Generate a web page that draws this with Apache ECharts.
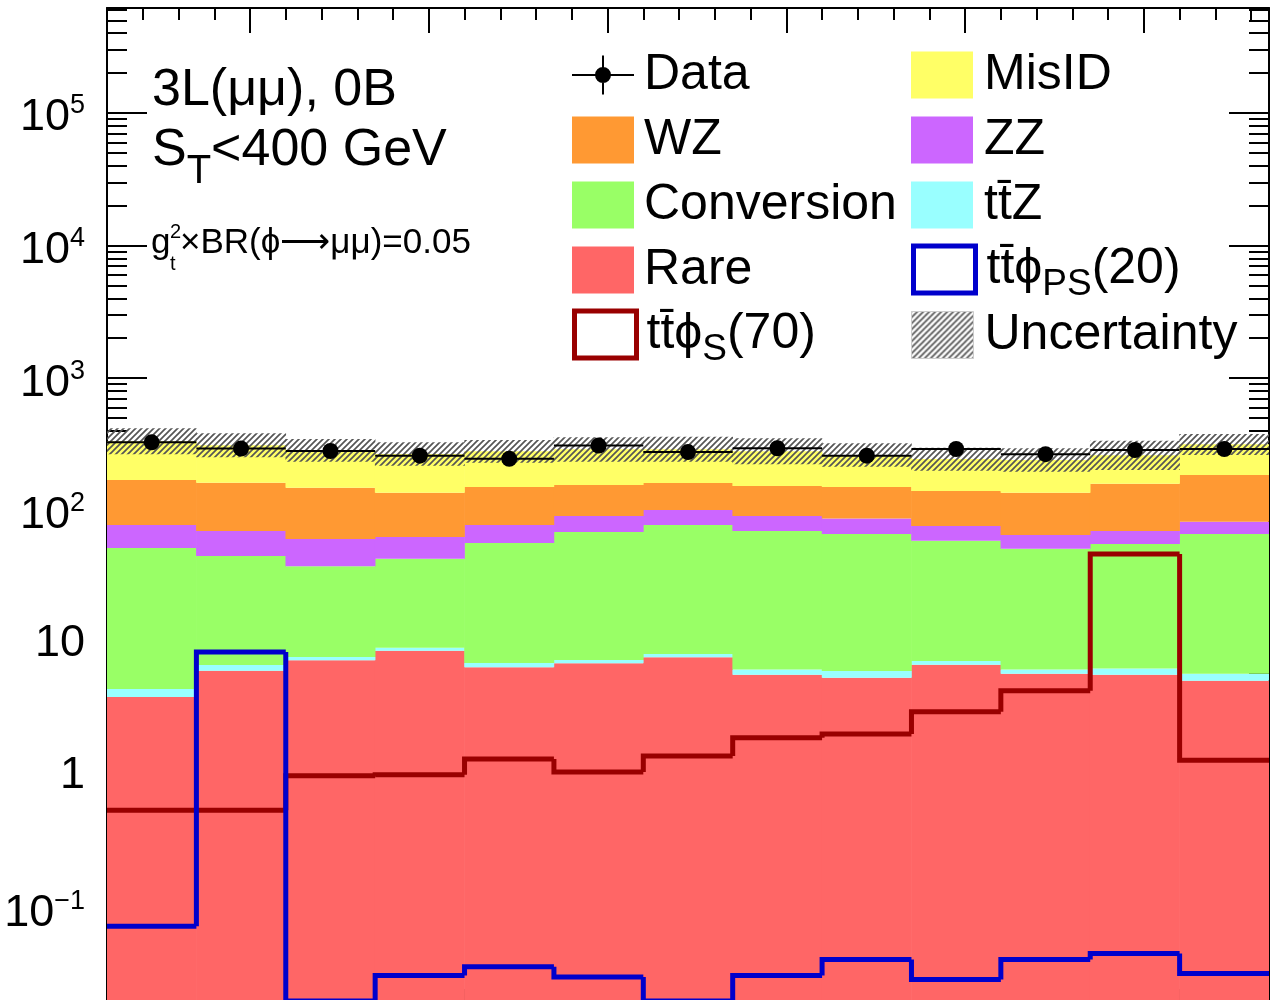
<!DOCTYPE html>
<html><head><meta charset="utf-8">
<script src="https://cdn.jsdelivr.net/npm/echarts@6/dist/echarts.min.js"></script>
<style>html,body{margin:0;padding:0;background:#fff;}#c{width:1270px;height:1000px;}</style>
</head><body><div id="c"></div>
<script>
// ---- data ----
const massBins = ['12-17','17-22','22-27','27-32','32-37','37-42','42-47','47-52','52-57','57-62','62-67','67-72','72-77'];
const rare       = [3.93, 6.20, 7.43, 8.78, 6.58, 7.05, 7.83, 5.78, 5.49, 6.88, 5.89, 5.78, 5.21];
const ttz        = [0.58, 0.65, 0.44, 0.47, 0.51, 0.42, 0.46, 0.57, 0.68, 0.46, 0.46, 0.68, 0.68];
const conversion = [47.8, 38.6, 30.3, 34.2, 49.9, 61.5, 69.7, 64.0, 60.5, 52.1, 45.3, 49.6, 60.8];
const zz         = [25.7, 24.8, 23.0, 19.9, 21.0, 22.2, 23.2, 20.9, 20.6, 17.3, 13.9, 14.2, 15.9];
const wz         = [92.5, 92.4, 88.0, 73.4, 73.0, 65.1, 60.6, 62.4, 63.7, 64.1, 71.2, 89.6, 103.4];
const misid      = [163.5, 148.9, 136.4, 131.2, 129.7, 134.3, 128.8, 127.1, 112.3, 104.7, 104.6, 102.0, 131.0];
const uncLo      = [266.5, 252.9, 234.3, 218.6, 230.3, 234.3, 234.3, 224.0, 214.8, 200.4, 197.0, 202.9, 263.2];
const uncHi      = [418.8, 383.9, 347.7, 328.3, 341.7, 358.1, 361.8, 351.9, 322.6, 298.9, 295.8, 337.6, 379.3];
const dataVals   = [328, 294, 282, 260, 246, 310, 277, 296, 260, 292, 267, 287, 292];
const dataErr    = [18, 17, 17, 16, 16, 18, 17, 17, 16, 17, 16, 17, 17];
const sigS70     = [0.55, 0.55, 1.00, 1.02, 1.34, 1.07, 1.41, 1.94, 2.07, 3.04, 4.38, 47.1, 1.31];
const sigPS20    = [0.0734, 8.58, 0.02, 0.0311, 0.0362, 0.0304, 0.02, 0.0311, 0.0411, 0.0291, 0.0411, 0.0457, 0.0323];
const yMajorTicks = [0.1, 1, 10, 100, 1000, 10000, 100000];
const xMajorTicks = [20, 30, 40, 50, 60, 70];
const xRange = [12, 77];
const yRange = [0.02, 6.2e5];

// ---- derived tick lists ----
const yMinorTicks = [];
for (let e = -2; e <= 5; e++) for (let m = 2; m <= 9; m++) {
  const v = m * Math.pow(10, e);
  if (v >= yRange[0] && v <= yRange[1]) yMinorTicks.push(v);
}
const xMinorTicks = [];
for (let v = xRange[0]; v <= xRange[1]; v += 2) xMinorTicks.push(v);

const FONT = 'Liberation Sans';
const layers = [
  {name: 'Rare', values: rare, color: '#ff6666'},
  {name: 'tt\u0304Z', values: ttz, color: '#99ffff'},
  {name: 'Conversion', values: conversion, color: '#99ff66'},
  {name: 'ZZ', values: zz, color: '#cc66ff'},
  {name: 'WZ', values: wz, color: '#ff9933'},
  {name: 'MisID', values: misid, color: '#ffff66'}
];

function hatchCanvas() {
  const s = 6, c = document.createElement('canvas');
  c.width = s; c.height = s;
  const g = c.getContext('2d');
  g.strokeStyle = '#555'; g.lineWidth = 1.7;
  g.beginPath();
  g.moveTo(-1, s + 1); g.lineTo(s + 1, -1);
  g.moveTo(-2, 2); g.lineTo(2, -2);
  g.moveTo(s - 2, s + 2); g.lineTo(s + 2, s - 2);
  g.stroke();
  return c;
}
const hatch = {image: hatchCanvas(), repeat: 'repeat'};

function rectItem(fillGetter) {
  return function (params, api) {
    const i = api.value(0);
    const pTop = api.coord([i, api.value(2)]);
    const pBot = api.coord([i, api.value(1)]);
    const w = api.size([1, 0])[0];
    return {type: 'rect',
      shape: {x: pTop[0] - w / 2 - 0.3, y: pTop[1], width: w + 0.6, height: pBot[1] - pTop[1]},
      style: {fill: fillGetter(api), stroke: null}};
  };
}

const series = [];
let cum = massBins.map(() => 0);
layers.forEach((L, k) => {
  const items = massBins.map((_, i) => {
    const base = k === 0 ? yRange[0] : cum[i];
    const top = cum[i] + L.values[i];
    return [i, base, top];
  });
  cum = cum.map((c, i) => c + L.values[i]);
  series.push({
    name: L.name, type: 'custom', xAxisIndex: 0, yAxisIndex: 0, clip: true,
    itemStyle: {color: L.color},
    encode: {x: 0, y: [1, 2]},
    renderItem: rectItem(api => api.visual('color')),
    data: items, z: 2
  });
});

series.push({
  name: 'Uncertainty', type: 'custom', xAxisIndex: 0, yAxisIndex: 0, clip: true,
  itemStyle: {color: hatch},
  encode: {x: 0, y: [1, 2]},
  renderItem: rectItem(() => hatch),
  data: massBins.map((_, i) => [i, uncLo[i], uncHi[i]]), z: 3
});

function stepRender(values, color) {
  return function (params, api) {
    const i = api.value(0);
    const w = api.size([1, 0])[0];
    const c = api.coord([i, api.value(1)]);
    const xl = c[0] - w / 2, xr = c[0] + w / 2;
    const pts = [];
    if (i > 0) { const pc = api.coord([i - 1, values[i - 1]]); pts.push([xl, pc[1]]); }
    pts.push([xl, c[1]]); pts.push([xr, c[1]]);
    return {type: 'polyline', shape: {points: pts},
      style: {stroke: color, lineWidth: 5, fill: null, lineJoin: 'miter', lineCap: 'butt'}};
  };
}
series.push({
  name: 'tt\u0304\u03d5_S(70)', type: 'custom', xAxisIndex: 0, yAxisIndex: 0, clip: true,
  itemStyle: {color: '#990000'}, encode: {x: 0, y: 1},
  renderItem: stepRender(sigS70, '#990000'),
  data: massBins.map((_, i) => [i, sigS70[i]]), z: 4
});
series.push({
  name: 'tt\u0304\u03d5_PS(20)', type: 'custom', xAxisIndex: 0, yAxisIndex: 0, clip: true,
  itemStyle: {color: '#0000cc'}, encode: {x: 0, y: 1},
  renderItem: stepRender(sigPS20, '#0000cc'),
  data: massBins.map((_, i) => [i, sigPS20[i]]), z: 4
});
series.push({
  name: 'Data', type: 'custom', xAxisIndex: 0, yAxisIndex: 0, clip: true,
  itemStyle: {color: '#000'}, encode: {x: 0, y: 1},
  renderItem: function (params, api) {
    const i = api.value(0), v = api.value(1), e = api.value(2);
    const c = api.coord([i, v]), w = api.size([1, 0])[0];
    const cu = api.coord([i, v + e]), cd = api.coord([i, v - e]);
    return {type: 'group', children: [
      {type: 'line', shape: {x1: c[0] - w / 2, y1: c[1], x2: c[0] + w / 2, y2: c[1]}, style: {stroke: '#000', lineWidth: 2}},
      {type: 'line', shape: {x1: c[0], y1: cu[1], x2: c[0], y2: cd[1]}, style: {stroke: '#000', lineWidth: 2}},
      {type: 'circle', shape: {cx: c[0], cy: c[1], r: 8}, style: {fill: '#000'}}
    ]};
  },
  data: massBins.map((_, i) => [i, dataVals[i], dataErr[i]]), z: 5
});

// ---- legend ----
const legendLabels = {
  'Data': '{n|Data}', 'WZ': '{n|WZ}', 'Conversion': '{n|Conversion}', 'Rare': '{n|Rare}',
  'tt\u0304\u03d5_S(70)': '{n|tt\u0304\u03d5}{sub|S}{n|(70)}',
  'MisID': '{n|MisID}', 'ZZ': '{n|ZZ}', 'tt\u0304Z': '{n|tt\u0304Z}',
  'tt\u0304\u03d5_PS(20)': '{n|tt\u0304\u03d5}{sub|PS}{n|(20)}',
  'Uncertainty': '{n|Uncertainty}'
};
function legendText(padLeft) {
  return {
    fontFamily: FONT, fontSize: 50, color: '#000', lineHeight: 47, padding: [0, 0, 0, padLeft],
    rich: {
      n: {fontFamily: FONT, fontSize: 50, lineHeight: 47, color: '#000'},
      sub: {fontFamily: FONT, fontSize: 37, lineHeight: 5, padding: [30, 0, 0, 0], color: '#000'}
    }
  };
}
const dataIcon = 'path://M0,22.5H62V24.5H0Z M30,4H32V43H30Z M39,23.5A8,8,0,1,1,23,23.5A8,8,0,1,1,39,23.5Z';
function legendCfg(left, top, padLeft, names) {
  return {
    show: true, orient: 'vertical', left: left, top: top, padding: 0,
    itemWidth: 62, itemHeight: 47, itemGap: 15, selectedMode: false, icon: 'rect',
    textStyle: legendText(padLeft),
    formatter: n => legendLabels[n] || n,
    data: names.map(n => {
      if (n === 'Data') return {name: n, icon: dataIcon, itemStyle: {color: '#000'}};
      if (n.indexOf('_S(') >= 0) return {name: n, icon: 'rect', itemStyle: {color: '#fff', borderColor: '#990000', borderWidth: 5}};
      if (n.indexOf('_PS(') >= 0) return {name: n, icon: 'rect', itemStyle: {color: '#fff', borderColor: '#0000cc', borderWidth: 5}};
      if (n === 'Uncertainty') return {name: n, icon: 'rect', itemStyle: {color: hatch, borderColor: '#ccc', borderWidth: 1}};
      return {name: n, icon: 'rect'};
    })
  };
}

// ---- axes ----
const lineBlack = {color: '#000', width: 2};
function yFmt(v) {
  const e = Math.round(Math.log10(v));
  if (e === 0) return '{n|1}';
  if (e === 1) return '{n|10}';
  return '{m|10}{sup|' + (e < 0 ? '\u2212' + (-e) : e) + '}';
}
const yBase = {type: 'log', logBase: 10, min: yRange[0], max: yRange[1], splitLine: {show: false}, minorTick: {show: false}, minorSplitLine: {show: false}};
const yAxis = [
  Object.assign({}, yBase, {position: 'left', axisLine: {show: true, lineStyle: lineBlack},
    axisTick: {show: true, inside: true, length: 40, customValues: yMajorTicks, lineStyle: lineBlack},
    axisLabel: {show: true, customValues: yMajorTicks, formatter: yFmt, margin: 22, color: '#000',
      fontFamily: FONT, fontSize: 45,
      rich: {
        n: {fontFamily: FONT, fontSize: 45, lineHeight: 45, color: '#000'},
        m: {fontFamily: FONT, fontSize: 45, lineHeight: 44, padding: [10, 0, 0, 0], color: '#000'},
        sup: {fontFamily: FONT, fontSize: 27, lineHeight: 27, padding: [0, 0, 14, 0], color: '#000'}
      }}}),
  Object.assign({}, yBase, {position: 'left', offset: 0, axisLine: {show: false},
    axisTick: {show: true, inside: true, length: 20, customValues: yMinorTicks, lineStyle: lineBlack},
    axisLabel: {show: false}}),
  Object.assign({}, yBase, {position: 'right', offset: 0, axisLine: {show: true, lineStyle: lineBlack},
    axisTick: {show: true, inside: true, length: 40, customValues: yMajorTicks, lineStyle: lineBlack},
    axisLabel: {show: false}}),
  Object.assign({}, yBase, {position: 'right', offset: 0, axisLine: {show: false},
    axisTick: {show: true, inside: true, length: 20, customValues: yMinorTicks, lineStyle: lineBlack},
    axisLabel: {show: false}})
];
const xBase = {type: 'value', min: xRange[0], max: xRange[1], splitLine: {show: false}, axisLabel: {show: false}, minorTick: {show: false}};
const xAxis = [
  {type: 'category', data: massBins, show: false, boundaryGap: true},
  Object.assign({}, xBase, {position: 'bottom', axisLine: {show: true, lineStyle: lineBlack},
    axisTick: {show: true, inside: true, length: 12, customValues: xMinorTicks, lineStyle: lineBlack}}),
  Object.assign({}, xBase, {position: 'bottom', axisLine: {show: false},
    axisTick: {show: true, inside: true, length: 25, customValues: xMajorTicks, lineStyle: lineBlack}}),
  Object.assign({}, xBase, {position: 'top', axisLine: {show: true, lineStyle: lineBlack},
    axisTick: {show: true, inside: true, length: 12, customValues: xMinorTicks, lineStyle: lineBlack}}),
  Object.assign({}, xBase, {position: 'top', axisLine: {show: false},
    axisTick: {show: true, inside: true, length: 25, customValues: xMajorTicks, lineStyle: lineBlack}})
];

// ---- annotations ----
const txt = (s, size) => ({text: s, fontFamily: FONT, fontSize: size, fill: '#000', verticalAlign: 'middle', textVerticalAlign: 'middle'});
const graphic = [
  {type: 'text', x: 152, y: 91, z: 10, style: txt('3L(\u03bc\u03bc), 0B', 52)},
  {type: 'text', x: 152, y: 151, z: 10, style: Object.assign(txt('{n|S}{sub|T}{n|<400 GeV}', 52), {
    rich: {n: {fontFamily: FONT, fontSize: 52, lineHeight: 52, fill: '#000', color: '#000'},
           sub: {fontFamily: FONT, fontSize: 40, lineHeight: 10, padding: [42, 0, 0, 0], fill: '#000', color: '#000'}}})},
  {type: 'text', x: 151, y: 243, z: 10, style: txt('g', 35)},
  {type: 'text', x: 170, y: 232, z: 10, style: txt('2', 20)},
  {type: 'text', x: 170, y: 264, z: 10, style: txt('t', 20)},
  {type: 'text', x: 180, y: 243, z: 10, style: txt('\u00d7BR(\u03d5\u27f6\u03bc\u03bc)=0.05', 35)}
];

const chart = echarts.init(document.getElementById('c'), null, {renderer: 'canvas'});
chart.setOption({
  backgroundColor: '#fff',
  animation: false,
  grid: {left: 107, top: 8, width: 1162, height: 993, containLabel: false, outerBoundsMode: 'none'},
  xAxis: xAxis,
  yAxis: yAxis,
  legend: [
    legendCfg(572, 50, 5, ['Data', 'WZ', 'Conversion', 'Rare']),
    legendCfg(572, 301, 5, ['tt\u0304\u03d5_S(70)']),
    legendCfg(911, 50, 6, ['MisID', 'ZZ', 'tt\u0304Z']),
    legendCfg(911, 236, 6, ['tt\u0304\u03d5_PS(20)']),
    legendCfg(911, 310, 6, ['Uncertainty'])
  ],
  graphic: graphic,
  series: series
});
</script></body></html>
